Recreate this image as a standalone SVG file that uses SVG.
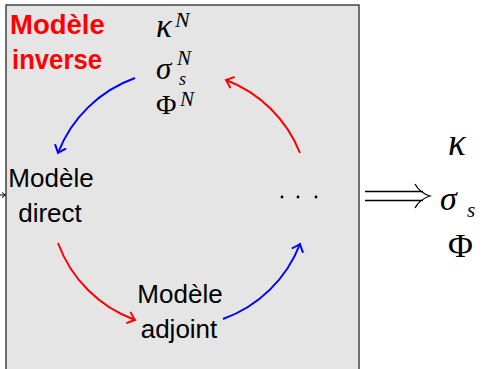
<svg xmlns="http://www.w3.org/2000/svg" width="483" height="369" viewBox="0 0 483 369">
<style>
.lbl{font-family:"Liberation Sans",Arial,sans-serif;font-size:26px;fill:#000}
.red{font-family:"Liberation Sans",Arial,sans-serif;font-size:27.5px;font-weight:bold;fill:#ff0000}
.m{font-family:"Liberation Serif","Times New Roman",serif;font-style:italic;fill:#000}
.up{font-family:"Liberation Serif","Times New Roman",serif;fill:#000}
.arc{fill:none;stroke-width:2}
</style>
<defs>
<marker id="hb" markerUnits="userSpaceOnUse" markerWidth="20" markerHeight="20" refX="10" refY="10" orient="auto" overflow="visible">
<path d="M3.5 4.5 Q8 8.5 10 10 Q8 11.5 3.5 15.5" fill="none" stroke="#0000ff" stroke-width="2" stroke-linecap="round"/>
</marker>
<marker id="hr" markerUnits="userSpaceOnUse" markerWidth="20" markerHeight="20" refX="10" refY="10" orient="auto" overflow="visible">
<path d="M3.5 4.5 Q8 8.5 10 10 Q8 11.5 3.5 15.5" fill="none" stroke="#ff0000" stroke-width="2" stroke-linecap="round"/>
</marker>
</defs>
<rect x="6" y="5" width="353" height="380" fill="#e5e5e5" stroke="#444" stroke-width="1.5"/>
<g id="title">
<text class="red" x="10" y="34">Modèle</text>
<text class="red" x="12" y="69" textLength="90" lengthAdjust="spacingAndGlyphs">inverse</text>
</g>
<g id="params">
<text class="m" x="156" y="37" font-size="33">κ</text>
<text class="m" x="175" y="27" font-size="22">N</text>
<text class="m" x="156" y="79" font-size="31">σ</text>
<text class="m" x="177" y="65" font-size="21">N</text>
<text class="m" x="179" y="85" font-size="18">s</text>
<text class="up" x="156" y="114" font-size="28">Φ</text>
<text class="m" x="180" y="106" font-size="21">N</text>
</g>
<g id="direct">
<text class="lbl" x="51" y="187" text-anchor="middle">Modèle</text>
<text class="lbl" x="50" y="222" text-anchor="middle">direct</text>
</g>
<g id="adjoint">
<text class="lbl" x="180" y="303" text-anchor="middle">Modèle</text>
<text class="lbl" x="179" y="338" text-anchor="middle">adjoint</text>
</g>
<g id="dots">
<circle cx="282" cy="197" r="1.4" fill="#000"/>
<circle cx="298" cy="197" r="1.4" fill="#000"/>
<circle cx="316" cy="197" r="1.4" fill="#000"/>
</g>
<g id="result">
<text class="m" x="448" y="155" font-size="37">κ</text>
<text class="m" x="440" y="210" font-size="34">σ</text>
<text class="m" x="467" y="217" font-size="21">s</text>
<text class="up" x="448" y="257" font-size="34">Φ</text>
</g>
<g id="connectors">
<path class="arc" stroke="#0000ff" d="M135 78 A129 129 0 0 0 58 153" marker-end="url(#hb)"/>
<path class="arc" stroke="#ff0000" d="M300 153 A129 129 0 0 0 226 80" marker-end="url(#hr)"/>
<path class="arc" stroke="#ff0000" d="M58 243 A129 129 0 0 0 135 320" marker-end="url(#hr)"/>
<path class="arc" stroke="#0000ff" d="M223 319 A129 129 0 0 0 300 244" marker-end="url(#hb)"/>
<path d="M0 195 L5 195 M2 192.5 L5.5 195 L2 197.5" fill="none" stroke="#000" stroke-width="1"/>
<path d="M365 191.5 L423 191.5 M365 200.5 L423 200.5 M415 184 Q420 193 430 196 Q420 199 415 208" fill="none" stroke="#000" stroke-width="1.3"/>
</g>
</svg>
